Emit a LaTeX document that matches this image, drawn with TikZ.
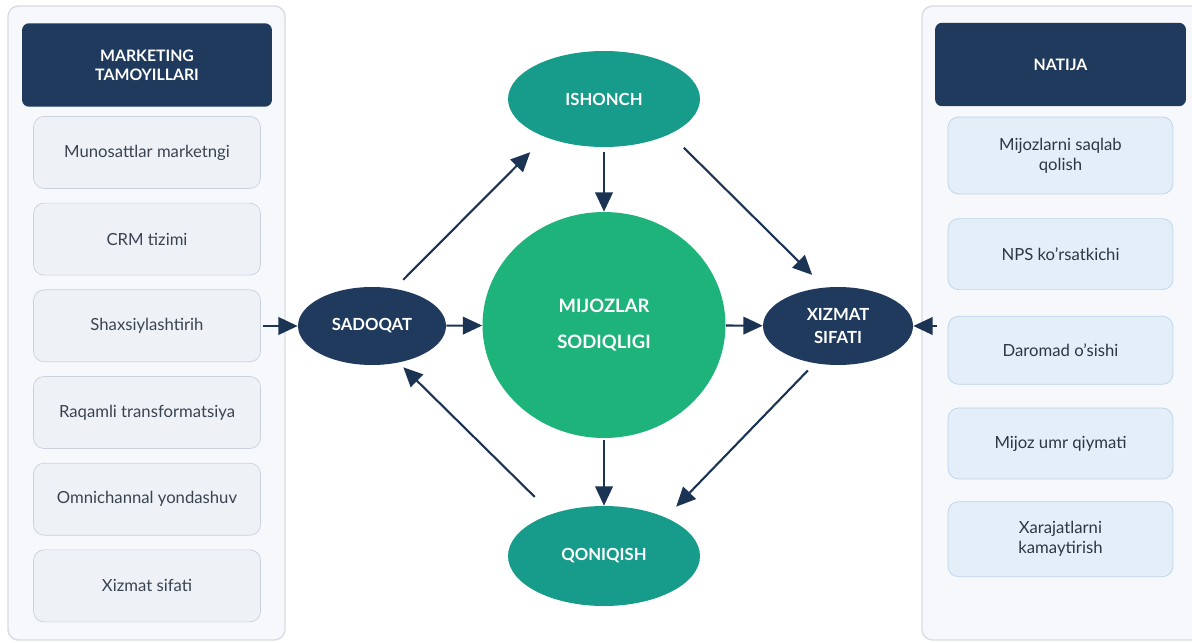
\documentclass[tikz,border=0pt]{standalone}
\usepackage{fontspec}
\setmainfont{Lato}
\usetikzlibrary{shapes.geometric, arrows.meta, positioning}

\definecolor{navy}{HTML}{1F3A5C}
\definecolor{arrowc}{HTML}{1C3454}
\definecolor{tealc}{HTML}{179B8A}
\definecolor{greenc}{HTML}{1DB37A}
\definecolor{panelbg}{HTML}{F6F8FB}
\definecolor{panelln}{HTML}{D6DDE6}
\definecolor{lfill}{HTML}{EEF2F7}
\definecolor{lline}{HTML}{C9D2DD}
\definecolor{rfill}{HTML}{E3EEF9}
\definecolor{rline}{HTML}{BBD3EA}
\definecolor{txt}{HTML}{3A4351}

\begin{document}
\begin{tikzpicture}[x=0.02cm, y=-0.02cm,
      node distance=0.28cm,
      panel/.style={draw=panelln, fill=panelbg, rounded corners=6pt, line width=0.8pt},
      hdr/.style={rectangle, fill=navy, rounded corners=4pt, minimum height=1.67cm, align=center, text=white, font=\bfseries\fontsize{9}{11}\selectfont},
      lbox/.style={rectangle, draw=lline, fill=lfill, rounded corners=6pt, minimum width=4.54cm, minimum height=1.44cm, align=center, text=txt, font=\fontsize{9.5}{11.5}\selectfont},
      rbox/.style={rectangle, draw=rline, fill=rfill, rounded corners=6pt, minimum width=4.5cm, align=center, text=txt!80!black, font=\fontsize{9.5}{11.5}\selectfont},
      navyell/.style={ellipse, fill=navy, inner sep=0pt, minimum height=1.56cm, align=center, text=white, font=\bfseries\fontsize{9.5}{13}\selectfont},
      tealell/.style={ellipse, fill=tealc, inner sep=0pt, minimum width=3.84cm, text=white, font=\bfseries\fontsize{9.5}{12}\selectfont},
      arr/.style={-{Triangle[length=11pt, width=10pt]}, line width=1.2pt, draw=arrowc}
    ]
    \useasboundingbox (0,0) rectangle (1192,642);
    \clip (0,0) rectangle (1192,642);
    \fill[white] (0,0) rectangle (1192,642);

    % left column
    \draw[panel] (8,6) rectangle (285,640);
    \node[hdr, minimum width=5cm] (lhead) at (147,65) {MARKETING\\TAMOYILLARI};
    \node[lbox, below=0.18cm of lhead] (munos) {Munosattlar marketngi};
    \node[lbox, below=of munos] (crm) {CRM tizimi};
    \node[lbox, below=of crm] (shaxs) {Shaxsiylashtirih};
    \node[lbox, below=of shaxs] (raqam) {Raqamli transformatsiya};
    \node[lbox, below=of raqam] (omni) {Omnichannal yondashuv};
    \node[lbox, below=of omni] (xizm) {Xizmat sifati};

    % right column
    \draw[panel] (922,6) rectangle (1210,640);
    \node[hdr, minimum width=5.02cm] (rhead) at (1060.5,64.5) {NATIJA};
    \node[rbox, minimum height=1.54cm, below=0.2cm of rhead] (saqlab) {Mijozlarni saqlab\\qolish};
    \node[rbox, minimum height=1.42cm, below=0.48cm of saqlab] (nps) {NPS ko’rsatkichi};
    \node[rbox, minimum height=1.36cm, below=0.52cm of nps] (daromad) {Daromad o’sishi};
    \node[rbox, minimum height=1.42cm, below=0.46cm of daromad] (umr) {Mijoz umr qiymati};
    \node[rbox, minimum height=1.5cm, below=0.44cm of umr] (xaraj) {Xarajatlarni\\kamaytirish};

    % cycle in the middle
    \node[ellipse, fill=greenc, inner sep=0pt, minimum width=4.86cm, minimum height=4.52cm, align=center, text=white,
          font=\bfseries\fontsize{10.5}{20}\selectfont] (sodiq) at (604,325) {MIJOZLAR\\SODIQLIGI};
    \node[tealell, minimum height=1.92cm] (ishonch) at (604,99) {ISHONCH};
    \node[tealell, minimum height=2cm] (qoniq) at (604,556) {QONIQISH};
    \node[navyell, minimum width=2.96cm] (sadoqat) at (372,326) {SADOQAT};
    \node[navyell, minimum width=3cm] (xizmat) at (838,326) {XIZMAT\\SIFATI};
    \coordinate (rin) at (937,326);

    \draw[arr, shorten <=1.5pt] (shaxs.east |- sadoqat) -- (sadoqat);
    \draw[arr] (sadoqat) -- (sodiq);
    \draw[arr] (sodiq) -- (xizmat);
    \draw[arr] (rin) -- (xizmat);
    \draw[arr, shorten <=7pt, shorten >=12pt] (sadoqat.59) -- (ishonch.213);
    \draw[arr, shorten <=2.8pt] (ishonch) -- (sodiq);
    \draw[arr, shorten <=11pt, shorten >=10pt] (ishonch.332) -- (xizmat.109);
    \draw[arr, shorten <=5.6pt, shorten >=8.5pt] (xizmat.238) -- (qoniq.32);
    \draw[arr, shorten <=1pt] (sodiq) -- (qoniq);
    \draw[arr, shorten <=13.6pt, shorten >=3.7pt] (qoniq.141) -- (sadoqat.306);
  \end{tikzpicture}
\end{document}
